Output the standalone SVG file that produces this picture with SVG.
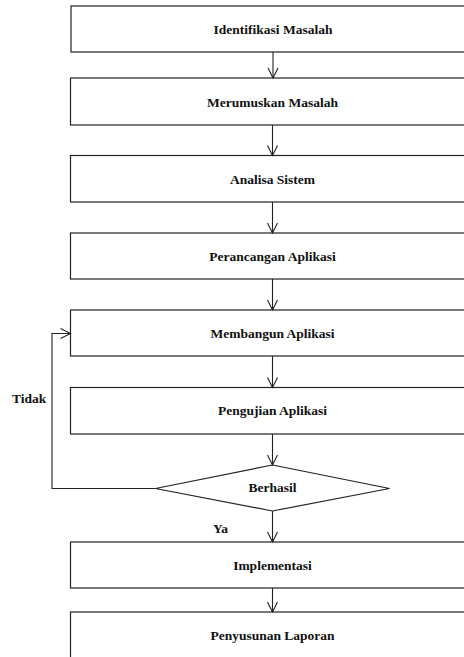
<svg xmlns="http://www.w3.org/2000/svg" width="464" height="657" viewBox="0 0 464 657">
<style>
.box{fill:#fff;stroke:#222;stroke-width:1.2}
.lbl{font-weight:bold;font-size:13.5px;fill:#111;text-anchor:middle}
.side{font-weight:bold;font-size:13.5px;fill:#111}
.ln{fill:none;stroke:#222;stroke-width:1.1}
</style>
<defs>
<marker id="ah" viewBox="0 0 12 12" refX="11" refY="6" markerWidth="12" markerHeight="12" markerUnits="userSpaceOnUse" orient="auto">
<path d="M1,1 L11,6 L1,11" fill="none" stroke="#222" stroke-width="1.1"/>
</marker>
</defs>
<rect width="464" height="657" fill="#fff"/>
<g font-family="'Liberation Serif', Tinos, 'Times New Roman', 'DejaVu Serif', serif">
<g id="n1"><rect class="box" x="71" y="6" width="400" height="46"/><text class="lbl" x="273" y="34">Identifikasi Masalah</text></g>
<g id="n2"><rect class="box" x="70.5" y="78" width="400" height="47"/><text class="lbl" x="272.5" y="106.5">Merumuskan Masalah</text></g>
<g id="n3"><rect class="box" x="70.5" y="155.5" width="400" height="46.5"/><text class="lbl" x="272.5" y="183.5">Analisa Sistem</text></g>
<g id="n4"><rect class="box" x="70.5" y="233" width="400" height="46"/><text class="lbl" x="272.5" y="260.5">Perancangan Aplikasi</text></g>
<g id="n5"><rect class="box" x="70.5" y="310" width="400" height="46"/><text class="lbl" x="272.5" y="337.5">Membangun Aplikasi</text></g>
<g id="n6"><rect class="box" x="70.5" y="387.5" width="400" height="46.5"/><text class="lbl" x="272.5" y="415">Pengujian Aplikasi</text></g>
<g id="n7"><polygon class="box" points="272.5,465 389.5,488.5 272.5,511 155.5,488.5"/><text class="lbl" x="272.5" y="491.5">Berhasil</text></g>
<g id="n8"><rect class="box" x="70.5" y="542" width="400" height="46"/><text class="lbl" x="272.5" y="570">Implementasi</text></g>
<g id="n9"><rect class="box" x="70.5" y="612" width="400" height="60"/><text class="lbl" x="272.5" y="639.5">Penyusunan Laporan</text></g>
<g id="connectors">
<line class="ln" x1="273" y1="52" x2="273" y2="78" marker-end="url(#ah)"/>
<line class="ln" x1="272.5" y1="125" x2="272.5" y2="155.5" marker-end="url(#ah)"/>
<line class="ln" x1="272.5" y1="202" x2="272.5" y2="233" marker-end="url(#ah)"/>
<line class="ln" x1="272.5" y1="279" x2="272.5" y2="310" marker-end="url(#ah)"/>
<line class="ln" x1="272.5" y1="356" x2="272.5" y2="387.5" marker-end="url(#ah)"/>
<line class="ln" x1="272.5" y1="434" x2="272.5" y2="465" marker-end="url(#ah)"/>
<line class="ln" x1="272.5" y1="511" x2="272.5" y2="542" marker-end="url(#ah)"/>
<line class="ln" x1="272.5" y1="588" x2="272.5" y2="612" marker-end="url(#ah)"/>
<polyline class="ln" points="155.5,488.5 52,488.5 52,333.5 70.5,333.5" marker-end="url(#ah)"/>
<text class="side" x="12" y="402.5">Tidak</text>
<text class="side" x="213" y="532.5">Ya</text>
</g>
</g>
</svg>
